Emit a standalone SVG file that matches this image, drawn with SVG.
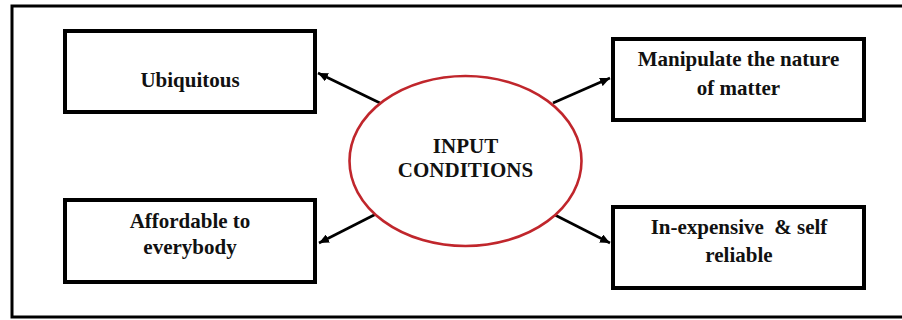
<svg xmlns="http://www.w3.org/2000/svg" width="902" height="320" viewBox="0 0 902 320">
<style>
.box{fill:#fff;stroke:#000;stroke-width:4}
.lbl{font-family:"Liberation Serif","Times New Roman",serif;font-weight:bold;font-size:21px;fill:#111;text-anchor:middle;white-space:pre}
.conn{stroke:#000;stroke-width:2.6;fill:none}
</style>
<defs>
<marker id="ah" markerUnits="userSpaceOnUse" markerWidth="11" markerHeight="9" refX="10" refY="4.5" orient="auto">
<path d="M0,0 L10,4.5 L0,9 z" fill="#000"/>
</marker>
</defs>
<rect x="0" y="0" width="902" height="320" fill="#fff"/>
<rect x="12" y="6" width="900" height="311" fill="none" stroke="#000" stroke-width="3"/>
<g id="connectors">
<line class="conn" x1="380" y1="103" x2="318" y2="73" marker-end="url(#ah)"/>
<line class="conn" x1="378" y1="213" x2="319" y2="243" marker-end="url(#ah)"/>
<line class="conn" x1="553" y1="103" x2="610" y2="78" marker-end="url(#ah)"/>
<line class="conn" x1="555" y1="215" x2="610" y2="243" marker-end="url(#ah)"/>
</g>
<g id="center">
<ellipse cx="465.5" cy="161" rx="116" ry="85" fill="#fff" stroke="#c0262c" stroke-width="2.6"/>
<text class="lbl" x="465.5" y="153">INPUT</text>
<text class="lbl" x="465.5" y="177">CONDITIONS</text>
</g>
<g id="ubiquitous">
<rect class="box" x="65" y="31" width="250" height="81"/>
<text class="lbl" x="190" y="87">Ubiquitous</text>
</g>
<g id="affordable">
<rect class="box" x="65" y="200" width="250" height="82"/>
<text class="lbl" x="190" y="228">Affordable to</text>
<text class="lbl" x="190" y="254">everybody</text>
</g>
<g id="manipulate">
<rect class="box" x="613" y="39" width="251" height="81"/>
<text class="lbl" x="738.5" y="66">Manipulate the nature</text>
<text class="lbl" x="738.5" y="95">of matter</text>
</g>
<g id="inexpensive">
<rect class="box" x="613" y="207" width="251" height="81"/>
<text class="lbl" x="739" y="234">In-expensive  &amp; self</text>
<text class="lbl" x="739" y="262">reliable</text>
</g>
</svg>
